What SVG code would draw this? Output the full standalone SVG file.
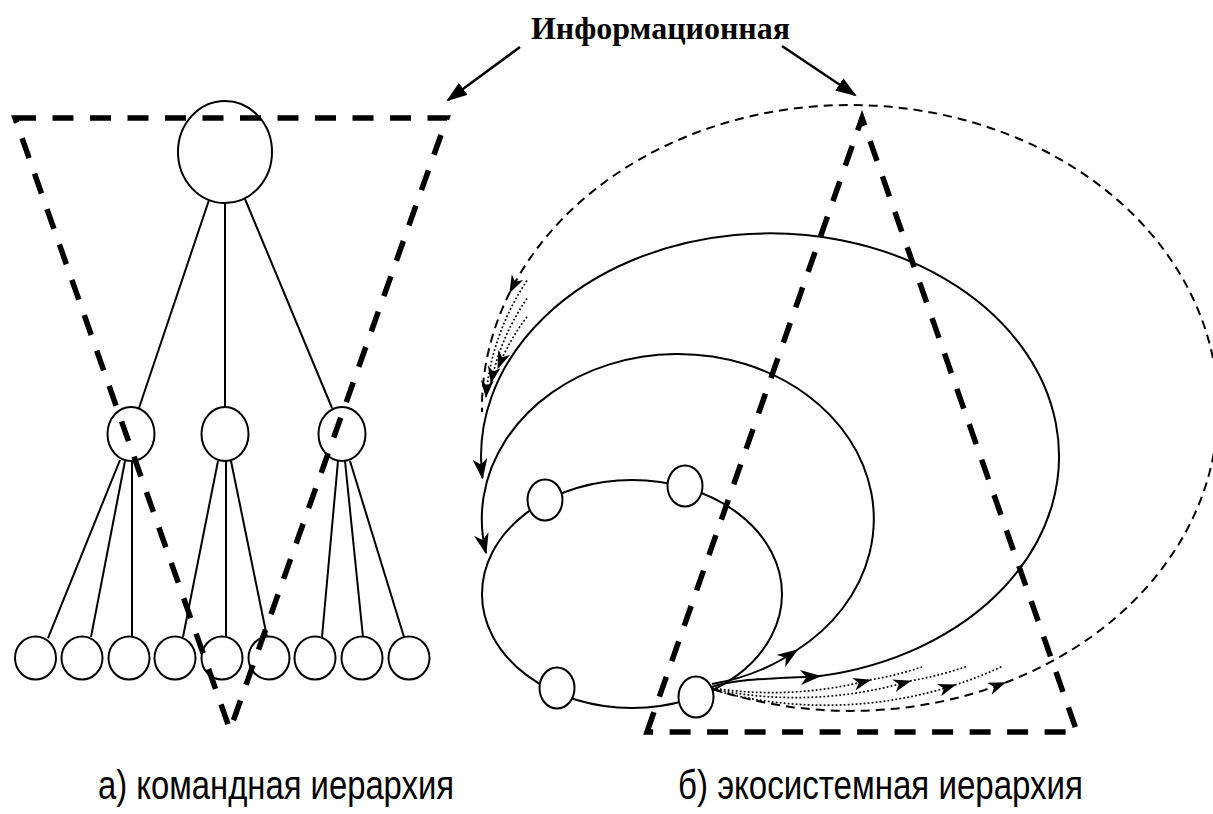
<svg xmlns="http://www.w3.org/2000/svg" width="1213" height="814" viewBox="0 0 1213 814">
  <style>
    .node { fill: #fff; stroke: #000; stroke-width: 2; }
    .edge { fill: none; stroke: #000; stroke-width: 2; }
    .loop { fill: none; stroke: #000; stroke-width: 2; }
    .outer { fill: none; stroke: #000; stroke-width: 2; stroke-dasharray: 9 6; }
    .dots { fill: none; stroke: #000; stroke-width: 1.7; stroke-dasharray: 1.8 2.2; }
    .frame { fill: none; stroke: #000; stroke-width: 5.5; stroke-dasharray: 21 16.5; stroke-linejoin: miter; }
    .pointer { fill: none; stroke: #000; stroke-width: 2.5; }
    .title { font-family: "Liberation Serif", "Times New Roman", serif; font-weight: bold; font-size: 31px; }
    .caption { font-family: "Liberation Sans", Arial, sans-serif; font-size: 40px; }
  </style>
  <defs>
    <marker id="barb" viewBox="0 0 14 10" refX="13" refY="5" markerWidth="21" markerHeight="15" markerUnits="userSpaceOnUse" orient="auto">
      <path d="M0,0 L14,5 L0,10 L4,5 Z" fill="#000"/>
    </marker>
    <marker id="barbSmall" viewBox="0 0 14 10" refX="13" refY="5" markerWidth="18" markerHeight="13" markerUnits="userSpaceOnUse" orient="auto">
      <path d="M0,0 L14,5 L0,10 L4,5 Z" fill="#000"/>
    </marker>
    <marker id="head" viewBox="0 0 20 14" refX="18" refY="7" markerWidth="21" markerHeight="15" markerUnits="userSpaceOnUse" orient="auto">
      <path d="M0,0 L20,7 L0,14 Z" fill="#000"/>
    </marker>
  </defs>

  <!-- heading with its two pointers -->
  <g id="heading">
    <text class="title" x="531" y="39" textLength="259" lengthAdjust="spacingAndGlyphs">Информационная</text>
    <path class="pointer" d="M520,47 L448,100" marker-end="url(#head)"/>
    <path class="pointer" d="M782,46 L855,95" marker-end="url(#head)"/>
  </g>

  <!-- command hierarchy: tree links -->
  <g id="tree-links">
    <path class="edge" d="M209,200 L139,408"/>
    <path class="edge" d="M225,203 L225,407"/>
    <path class="edge" d="M245,199 L332,408"/>
    <path class="edge" d="M120,460 L48,638"/>
    <path class="edge" d="M125,461 L91,637"/>
    <path class="edge" d="M132,461 L132,637"/>
    <path class="edge" d="M218,461 L183,637"/>
    <path class="edge" d="M226,461 L226,637"/>
    <path class="edge" d="M231,461 L267,637"/>
    <path class="edge" d="M338,461 L322,637"/>
    <path class="edge" d="M345,461 L363,637"/>
    <path class="edge" d="M350,461 L404,637"/>
  </g>

  <!-- command hierarchy: nodes -->
  <g id="root"><ellipse class="node" cx="225" cy="152" rx="47" ry="51"/></g>
  <g id="mid-1"><ellipse class="node" cx="131" cy="434" rx="23.5" ry="27"/></g>
  <g id="mid-2"><ellipse class="node" cx="225" cy="434" rx="23.5" ry="27"/></g>
  <g id="mid-3"><ellipse class="node" cx="342" cy="434" rx="23.5" ry="27"/></g>
  <g id="leaf-1"><ellipse class="node" cx="35.5" cy="658" rx="20.5" ry="21.5"/></g>
  <g id="leaf-2"><ellipse class="node" cx="82" cy="658" rx="20.5" ry="21.5"/></g>
  <g id="leaf-3"><ellipse class="node" cx="129" cy="658" rx="20.5" ry="21.5"/></g>
  <g id="leaf-4"><ellipse class="node" cx="175" cy="658" rx="20.5" ry="21.5"/></g>
  <g id="leaf-5"><ellipse class="node" cx="222" cy="658" rx="20.5" ry="21.5"/></g>
  <g id="leaf-6"><ellipse class="node" cx="269" cy="658" rx="20.5" ry="21.5"/></g>
  <g id="leaf-7"><ellipse class="node" cx="315" cy="658" rx="20.5" ry="21.5"/></g>
  <g id="leaf-8"><ellipse class="node" cx="362" cy="658" rx="20.5" ry="21.5"/></g>
  <g id="leaf-9"><ellipse class="node" cx="409" cy="658" rx="20.5" ry="21.5"/></g>

  <!-- ecosystem hierarchy: spiral of loops -->
  <g id="loops">
    <ellipse class="loop" cx="632" cy="594" rx="150" ry="114"/>
    <path class="loop" d="M712,684 A196,165 0 0 0 797,650" marker-end="url(#barb)"/>
    <path class="loop" d="M797,650 A196,165 0 1 0 486,553" marker-end="url(#barb)"/>
    <path class="loop" d="M712,687 C735,678 780,679 820,676" marker-end="url(#barb)"/>
    <path class="loop" d="M820,676 A289,223 0 1 0 482.4,478" marker-end="url(#barb)"/>
    <path class="outer" d="M713,689 A368,303 0 0 0 1005,682.8" marker-end="url(#barbSmall)"/>
    <path class="outer" d="M1005,682.8 A368,303 0 1 0 510,292" marker-end="url(#barbSmall)"/>
    <path class="outer" d="M510,292 A368,303 0 0 0 482,412"/>
    <path class="dots" d="M712,688 A308.75,243 0 0 0 870,680" marker-end="url(#barbSmall)"/>
    <path class="dots" d="M870,680 A308.75,243 0 0 0 922,667"/>
    <path class="dots" d="M712,689 A328.5,263 0 0 0 910,681" marker-end="url(#barbSmall)"/>
    <path class="dots" d="M910,681 A328.5,263 0 0 0 968,666"/>
    <path class="dots" d="M713,690 A348.25,283 0 0 0 955,685" marker-end="url(#barbSmall)"/>
    <path class="dots" d="M955,685 A348.25,283 0 0 0 1003,666"/>
    <path class="dots" d="M527,280.5 A348.25,283 0 0 0 486,397" marker-end="url(#barbSmall)"/>
    <path class="dots" d="M527,298.4 A328.5,263 0 0 0 491,383" marker-end="url(#barbSmall)"/>
    <path class="dots" d="M527,316.7 A308.75,243 0 0 0 498,368" marker-end="url(#barbSmall)"/>
  </g>

  <!-- ecosystem hierarchy: nodes on the inner loop -->
  <g id="eco-1"><ellipse class="node" cx="545" cy="500" rx="17.5" ry="20.5"/></g>
  <g id="eco-2"><ellipse class="node" cx="685" cy="486" rx="17.5" ry="20.5"/></g>
  <g id="eco-3"><ellipse class="node" cx="557" cy="688" rx="17.5" ry="20.5"/></g>
  <g id="eco-4"><ellipse class="node" cx="696" cy="697" rx="17.5" ry="20.5"/></g>

  <!-- information triangles -->
  <g id="frames">
    <path class="frame" d="M15,118 L447,118 L230,730 Z"/>
    <path class="frame" d="M647,732 L862,118 L1077,732 Z"/>
  </g>

  <g id="captions">
    <text class="caption" x="98" y="799" textLength="356" lengthAdjust="spacingAndGlyphs">а) командная иерархия</text>
    <text class="caption" x="678" y="799" textLength="405" lengthAdjust="spacingAndGlyphs">б) экосистемная иерархия</text>
  </g>
</svg>
